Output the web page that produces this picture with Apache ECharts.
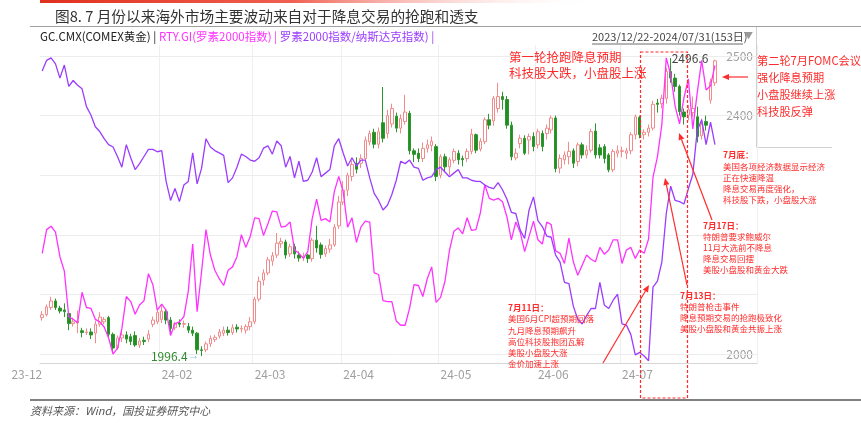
<!DOCTYPE html>
<html><head><meta charset="utf-8">
<script src="https://cdn.jsdelivr.net/npm/echarts@6/dist/echarts.min.js"></script>
<style>html,body{margin:0;padding:0;background:#fff}#c{width:861px;height:423px}</style>
</head><body><div id="c"></div>
<script>
// ---- categories (trading days) ----
const datesDec = ['2023-12-22','2023-12-26','2023-12-27','2023-12-28','2023-12-29'];
const datesJan = ['02','03','04','05','08','09','10','11','12','15','16','17','18','19','22','23','24','25','26','29','30','31'].map(d=>'2024-01-'+d);
const datesFeb = ['01','02','05','06','07','08','09','12','13','14','15','16','19','20','21','22','23','26','27','28','29'].map(d=>'2024-02-'+d);
const datesMar = ['01','04','05','06','07','08','11','12','13','14','15','18','19','20','21','22','25','26','27','28'].map(d=>'2024-03-'+d);
const datesApr = ['01','02','03','04','05','08','09','10','11','12','15','16','17','18','19','22','23','24','25','26','29','30'].map(d=>'2024-04-'+d);
const datesMay = ['01','02','03','06','07','08','09','10','13','14','15','16','17','20','21','22','23','24','28','29','30','31'].map(d=>'2024-05-'+d);
const datesJun = ['03','04','05','06','07','10','11','12','13','14','17','18','20','21','24','25','26','27','28'].map(d=>'2024-06-'+d);
const datesJul = ['01','02','03','05','08','09','10','11','12','15','16','17','18','19','22','23','24','25','26','29','30','31'].map(d=>'2024-07-'+d);
const dates = [].concat(datesDec,datesJan,datesFeb,datesMar,datesApr,datesMay,datesJun,datesJul);
const padCats = ['p1','p2','p3','p4','p5','p6','p7','p8','p9'];

// ---- COMEX gold: [open, close, low, high] ----
const goldDec = [[2061,2066,2056,2072],[2066,2079,2063,2083],[2078,2089,2074,2096],[2089,2078,2074,2093],[2077,2072,2068,2081]];
const goldJan = [[2074,2071,2062,2085],[2068,2051,2040,2072],[2051,2054,2046,2061],[2052,2055,2035,2073],[2039,2036,2028,2044],
 [2036,2037,2032,2043],[2037,2032,2025,2043],[2035,2050,2018,2056],[2050,2062,2046,2070],[2054,2058,2050,2062],
 [2061,2033,2028,2064],[2033,2010,2005,2036],[2010,2027,2007,2031],[2027,2032,2020,2040],[2032,2025,2018,2038],
 [2029,2021,2015,2034],[2031,2015,2012,2038],[2015,2022,2010,2027],[2023,2021,2015,2029],[2025,2033,2020,2040],
 [2050,2057,2045,2063],[2054,2070,2050,2075]];
const goldFeb = [[2058,2072,2052,2082],[2071,2057,2050,2075],[2057,2043,2035,2062],[2044,2051,2040,2054],[2052,2050,2045,2058],
 [2050,2051,2044,2056],[2046,2040,2035,2052],[2040,2035,2030,2046],[2035,2007,2000,2037],[2007,2006,1996.4,2013],
 [2007,2017,2003,2021],[2017,2026,2012,2031],[2024,2028,2020,2032],[2030,2037,2026,2042],[2035,2040,2030,2046],
 [2040,2036,2031,2046],[2036,2044,2032,2050],[2045,2042,2036,2050],[2042,2043,2036,2048],[2040,2046,2034,2050],
 [2046,2054,2040,2062]];
const goldMar = [[2054,2092,2050,2096],[2092,2122,2088,2130],[2124,2136,2115,2142],[2136,2158,2132,2163],[2156,2165,2148,2171],
 [2166,2186,2161,2203],[2185,2189,2178,2195],[2188,2166,2160,2192],[2168,2180,2163,2185],[2180,2168,2160,2185],
 [2166,2161,2155,2172],[2162,2164,2156,2170],[2166,2160,2153,2168],[2160,2191,2155,2195],[2191,2178,2170,2215],
 [2183,2167,2160,2187],[2168,2177,2163,2182],[2176,2183,2170,2193],[2183,2213,2180,2218],[2215,2255,2210,2265]];
const goldApr = [[2255,2275,2250,2290],[2275,2300,2265,2304],[2298,2318,2290,2325],[2320,2310,2303,2330],[2320,2328,2312,2335],
 [2328,2359,2322,2365],[2356,2370,2350,2375],[2372,2352,2345,2378],[2352,2373,2345,2380],[2388,2362,2355,2448],
 [2370,2400,2362,2410],[2386,2412,2380,2420],[2399,2379,2372,2405],[2379,2395,2370,2402],[2390,2406,2385,2435],
 [2404,2341,2335,2408],[2341,2335,2322,2345],[2337,2328,2322,2345],[2328,2345,2322,2355],[2345,2351,2338,2360],
 [2350,2357,2340,2365],[2348,2298,2290,2352]];
const goldMay = [[2300,2331,2295,2335],[2331,2314,2305,2336],[2314,2326,2300,2330],[2325,2340,2320,2345],[2337,2326,2318,2342],
 [2328,2326,2315,2333],[2328,2340,2322,2345],[2340,2369,2335,2378],[2368,2342,2337,2370],[2344,2357,2340,2362],
 [2356,2393,2352,2397],[2393,2384,2377,2403],[2391,2429,2383,2433],[2412,2432,2405,2455],[2432,2427,2410,2440],
 [2427,2384,2378,2433],[2384,2331,2325,2390],[2329,2337,2325,2345],[2353,2362,2345,2368],[2362,2337,2334,2367],
 [2359,2365,2335,2370],[2365,2348,2340,2372]];
const goldJun = [[2351,2373,2345,2378],[2370,2348,2340,2375],[2370,2379,2360,2385],[2376,2396,2370,2400],[2396,2311,2305,2400],
 [2312,2328,2303,2335],[2326,2334,2318,2340],[2331,2340,2318,2356],[2341,2320,2312,2345],[2323,2351,2315,2355],
 [2351,2334,2328,2355],[2334,2342,2328,2350],[2342,2373,2338,2378],[2374,2334,2328,2387],[2346,2334,2328,2352],
 [2348,2328,2320,2352],[2334,2309,2305,2337],[2309,2340,2305,2344],[2337,2341,2330,2350]];
const goldJul = [[2340,2341,2330,2348],[2337,2341,2327,2346],[2341,2368,2335,2372],[2368,2398,2360,2402],[2397,2368,2362,2400],
 [2368,2372,2360,2377],[2372,2379,2365,2385],[2379,2419,2375,2425],[2421,2419,2405,2428],[2420,2429,2412,2435],
 [2429,2474,2420,2480],[2474,2463,2455,2496.6],[2463,2449,2440,2470],[2449,2407,2400,2452],[2406,2398,2385,2412],
 [2401,2410,2392,2418],[2405,2412,2398,2432],[2398,2365,2355,2415],[2366,2385,2360,2395],[2390,2384,2375,2400],
 [2426,2456,2420,2462],[2455,2492,2450,2494]];
const goldOHLC = [].concat(goldDec,goldJan,goldFeb,goldMar,goldApr,goldMay,goldJun,goldJul);

// ---- RTY.GI (Russell 2000) ----
const rtyValues = [
 2032,2060,2064,2057,2028,2011,1957,1954,1950,1986,
 1968,1967,1954,1951,1945,1932,1913,1920,1943,1981,
 1975,1960,1971,1976,2008,1995,1965,1972,1965,1935,
 1949,1951,1957,1987,2043,1963,2010,2060,2030,2012,
 2002,1994,2012,2016,2028,2054,2039,2052,2074,2073,
 2053,2067,2082,2081,2063,2064,2069,2036,2032,2026,
 2034,2073,2096,2071,2073,2069,2105,2123,2105,2063,
 2074,2045,2063,2070,2069,2009,2007,1976,1975,1975,
 1952,1947,1947,1967,1995,1994,1981,2002,2016,1974,
 1980,1999,2035,2058,2062,2055,2074,2059,2060,2080,
 2113,2097,2095,2097,2093,2075,2048,2069,2057,2034,
 2052,2070,2048,2043,2069,2066,2035,2032,2020,2050,
 2022,2006,2018,2030,2025,2022,2039,2031,2036,2048,
 2048,2020,2036,2039,2026,2036,2032,2049,2122,2146,
 2184,2263,2243,2206,2185,2216,2238,2179,2222,2260,
 2225,2230,2254];

// ---- Russell 2000 / Nasdaq ratio ----
const ratioValues = [
 0.1343,0.1352,0.1354,0.1349,0.1337,0.1348,0.1330,0.1335,0.1331,0.1328,
 0.1313,0.1306,0.1296,0.1292,0.1286,0.1281,0.1279,0.1271,0.1262,0.1281,
 0.1270,0.1260,0.1265,0.1271,0.1277,0.1277,0.1275,0.1276,0.1250,0.1234,
 0.1244,0.1233,0.1247,0.1250,0.1274,0.1248,0.1261,0.1286,0.1279,0.1276,
 0.1274,0.1272,0.1249,0.1253,0.1262,0.1273,0.1271,0.1268,0.1267,0.1270,
 0.1278,0.1280,0.1273,0.1284,0.1280,0.1262,0.1271,0.1253,0.1267,0.1250,
 0.1251,0.1258,0.1270,0.1254,0.1257,0.1260,0.1280,0.1286,0.1274,0.1263,
 0.1270,0.1263,0.1268,0.1268,0.1253,0.1240,0.1234,0.1226,0.1230,0.1239,
 0.1251,0.1267,0.1265,0.1268,0.1262,0.1261,0.1251,0.1253,0.1254,0.1260,
 0.1262,0.1258,0.1254,0.1257,0.1260,0.1253,0.1253,0.1251,0.1250,0.1250,
 0.1247,0.1245,0.1244,0.1249,0.1243,0.1235,0.1224,0.1223,0.1209,0.1202,
 0.1226,0.1237,0.1217,0.1212,0.1204,0.1203,0.1188,0.1182,0.1165,0.1164,
 0.1145,0.1134,0.1130,0.1137,0.1143,0.1143,0.1165,0.1146,0.1143,0.1150,
 0.1155,0.1130,0.1129,0.1121,0.1104,0.1106,0.1103,0.1099,0.1161,0.1166,
 0.1182,0.1223,0.1246,0.1234,0.1233,0.1231,0.1244,0.1256,0.1293,0.1302,
 0.1281,0.1300,0.1281];

const goldTickLabels = [2000, 2400, 2500];
const goldGridLevels = [2000, 2100, 2200, 2300, 2400, 2500];
const goldMax = {label: '2496.6', value: 2496.6, date: '2024-07-17'};
const goldMin = {label: '1996.4', value: 1996.4, date: '2024-02-14'};

// ---- build ----
const cats = dates.concat(padCats);
function showTick(i){
  if (i >= dates.length) return false;
  if (i === 0) return true;
  const m = dates[i].slice(5,7), pm = dates[i-1].slice(5,7);
  return m !== pm && m !== '01';
}
const FONT = '"Noto Sans CJK SC","Noto Sans",sans-serif';
const RED = '#ff2b2b';

function arrow(x1,y1,x2,y2,color,w){
  const a = Math.atan2(y2-y1,x2-x1), L=7, W=3;
  const bx = x2 - L*Math.cos(a), by = y2 - L*Math.sin(a);
  const px = -Math.sin(a)*W, py = Math.cos(a)*W;
  return [
    {type:'line', silent:true, z:50, shape:{x1,y1,x2:bx,y2:by}, style:{stroke:color,lineWidth:w||1.2}},
    {type:'polygon', silent:true, z:50, shape:{points:[[x2,y2],[bx+px,by+py],[bx-px,by-py]]}, style:{fill:color}}
  ];
}
function textLines(x,y,lines,size,gap,color,boldFirst){
  return lines.map((t,k)=>({type:'text', silent:true, z:60, x:x, y:y+k*gap,
    style:{text:t, fill:color, font:(boldFirst&&k===0?'bold ':'')+size+'px '+FONT, textVerticalAlign:'middle'}}));
}

const graphics = [].concat(
  [{type:'rect', silent:true, shape:{x:40,y:0,width:560,height:3},
    style:{fill:new echarts.graphic.LinearGradient(0,0,1,0,[{offset:0,color:'#e0301e'},{offset:0.45,color:'#f06050'},{offset:1,color:'rgba(255,255,255,0)'}])}},
   {type:'text', silent:true, x:55, y:16, style:{text:'图8. 7 月份以来海外市场主要波动来自对于降息交易的抢跑和透支', fill:'#333', font:'14.7px '+FONT, textVerticalAlign:'middle'}},
   {type:'line', silent:true, shape:{x1:30,y1:26.5,x2:861,y2:26.5}, style:{stroke:'#a0a0a0',lineWidth:1.2}},
   {type:'line', silent:true, shape:{x1:756.5,y1:27,x2:756.5,y2:147}, style:{stroke:'#d0d0d0',lineWidth:1}},
   {type:'line', silent:true, shape:{x1:756.5,y1:147.5,x2:832,y2:147.5}, style:{stroke:'#d0d0d0',lineWidth:1}},
   {type:'text', silent:true, x:40, y:37, style:{
     text:'{a|GC.CMX(COMEX黄金) | }{b|RTY.GI(罗素2000指数) | }{c|罗素2000指数/纳斯达克指数) | }',
     font:'11.5px '+FONT, textVerticalAlign:'middle',
     rich:{a:{fill:'#222',font:'11.5px '+FONT}, b:{fill:'#ff33ff',font:'11.5px '+FONT}, c:{fill:'#9b3cff',font:'11.5px '+FONT}}}},
   {type:'text', silent:true, x:592, y:37, style:{text:'2023/12/22-2024/07/31(153日)', fill:'#444', font:'11px '+FONT, textVerticalAlign:'middle'}},
   {type:'line', silent:true, shape:{x1:592,y1:44,x2:743,y2:44}, style:{stroke:'#444',lineWidth:0.8}},
   {type:'text', silent:true, x:744, y:36, style:{text:'▼', fill:'#999', font:'9px '+FONT, textVerticalAlign:'middle'}},
   {type:'line', silent:true, shape:{x1:30,y1:400,x2:861,y2:400}, style:{stroke:'#808080',lineWidth:2}},
   {type:'text', silent:true, x:30, y:411, style:{text:'资料来源：Wind，国投证券研究中心', fill:'#555', font:'italic 11px '+FONT, textVerticalAlign:'middle'}},
   {type:'rect', silent:true, z:40, shape:{x:640.5,y:52,width:47,height:346}, style:{fill:'none',stroke:RED,lineWidth:1.2,lineDash:[3,2]}}
  ],
  textLines(509,57,['第一轮抢跑降息预期','科技股大跌，小盘股上涨'],12.5,16,RED,false),
  textLines(757,61,['第二轮7月FOMC会议','强化降息预期','小盘股继续上涨','科技股反弹'],11.2,17,RED,false),
  arrow(748,77,722,77,RED,1.2),
  textLines(723,155,['7月底：','美国各项经济数据显示经济','正在快速降温','降息交易再度强化，','科技股下跌，小盘股大涨'],8.5,11.3,RED,true),
  textLines(703,226,['7月17日：','特朗普要求鲍威尔','11月大选前不降息','降息交易回摆','美股小盘股和黄金大跌'],8.5,11,RED,true),
  textLines(680,296,['7月13日：','特朗普枪击事件','降息预期交易的抢跑极致化','美股小盘股和黄金共振上涨'],8.5,10.8,RED,true),
  textLines(508,308,['7月11日：','美国6月CPI超预期回落','九月降息预期飙升','高位科技股抱团瓦解','美股小盘股大涨','金价加速上涨'],8.5,11.2,RED,true),
  arrow(603,363,649,285,RED,1.2),
  arrow(687,285,665,178,RED,1.2),
  arrow(712,220,679,133,RED,1.2)
);

const option = {
  animation:false,
  backgroundColor:'#fff',
  grid:{left:40, right:104, top:45, bottom:60},
  xAxis:{type:'category', data:cats, boundaryGap:true,
    axisLine:{lineStyle:{color:'#d6d6d6'}}, axisTick:{show:false},
    axisLabel:{interval:(i)=>showTick(i), formatter:(v)=>v.slice(2,7), color:'#a0a0a0', fontSize:12, fontFamily:FONT,
      align:'left', alignMinLabel:'right', margin:5},
    splitLine:{show:true, interval:(i)=>i>0 && showTick(i), lineStyle:{color:'#efefef'}}},
  yAxis:[
    {type:'value', position:'right', min:1984.9, max:2518.5, scale:true,
      axisLine:{show:false}, axisTick:{show:false}, splitLine:{show:false},
      axisLabel:{inside:true, customValues:goldTickLabels, formatter:(v)=>String(Math.round(v)), color:'#a0a0a0', fontSize:12, fontFamily:FONT, margin:4}},
    {type:'value', show:false, min:1902.4, max:2278.2, splitLine:{show:false}},
    {type:'value', show:false, min:0.10971, max:0.13649, splitLine:{show:false}}
  ],
  series:[
    {type:'candlestick', name:'GC.CMX', yAxisIndex:0, data:goldOHLC, barWidth:3, z:2,
      itemStyle:{color:'#ffffff', color0:'#1f8f1f', borderColor:'#f28b8b', borderColor0:'#2e962e', borderWidth:1},
      markLine:{silent:true, symbol:['none','none'], label:{show:false}, z:1,
        lineStyle:{color:'#ececec', type:'solid', width:1},
        data:goldGridLevels.map(v=>({yAxis:v}))},
      markPoint:{silent:true, symbol:'circle', symbolSize:0,
        data:[
          {coord:[goldMax.date, goldMax.value], label:{show:true, position:'right', distance:1, formatter:goldMax.label, color:'#444', fontSize:12, fontFamily:FONT}},
          {coord:[goldMin.date, goldMin.value], label:{show:true, position:'left', distance:2, formatter:'{a|'+goldMin.label+'}{b|→}',
            rich:{a:{color:'#2e8a2e', fontSize:12, fontFamily:FONT}, b:{color:'#8cc8e0', fontSize:12}}}}
        ]}},
    {type:'line', name:'RTY.GI', yAxisIndex:1, data:rtyValues, symbol:'none', z:3,
      lineStyle:{color:'#ff33ff', width:1.3}, itemStyle:{color:'#ff33ff'}},
    {type:'line', name:'ratio', yAxisIndex:2, data:ratioValues, symbol:'none', z:4,
      lineStyle:{color:'#9b3cff', width:1.3}, itemStyle:{color:'#9b3cff'}}
  ],
  graphic:graphics
};
const chart = echarts.init(document.getElementById('c'), null, {renderer:'canvas'});
chart.setOption(option);
</script></body></html>
